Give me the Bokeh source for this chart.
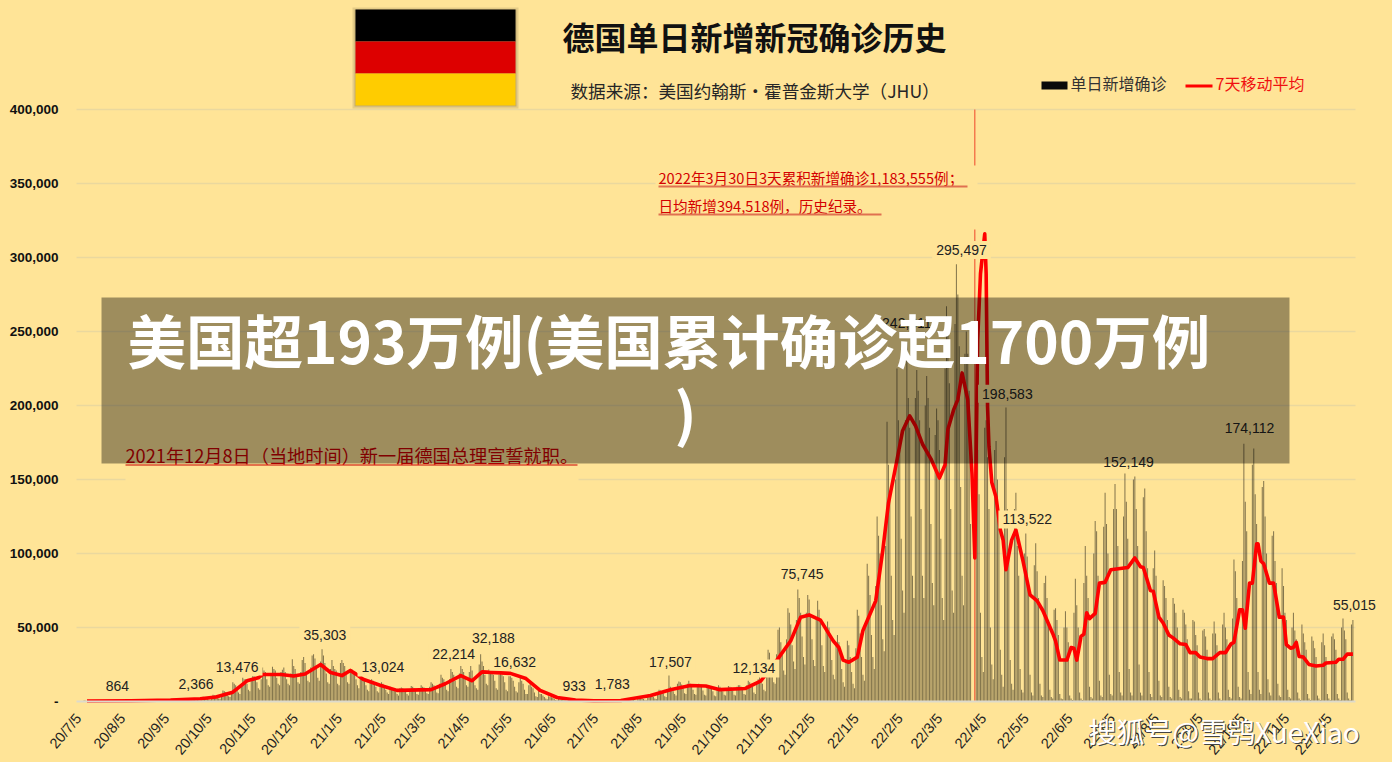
import numpy as np
import pandas as pd
from bokeh.plotting import figure
from bokeh.models import Range1d, FixedTicker, Label, BoxAnnotation, GlobalInlineStyleSheet, Grid
from bokeh.embed import file_html
from bokeh.resources import INLINE

BG = "#FFE497"
LATIN = "Liberation Sans"
CJK = "Noto Sans CJK SC"

month_labels = ["20/7/5","20/8/5","20/9/5","20/10/5","20/11/5","20/12/5","21/1/5","21/2/5","21/3/5","21/4/5",
                "21/5/5","21/6/5","21/7/5","21/8/5","21/9/5","21/10/5","21/11/5","21/12/5","22/1/5","22/2/5",
                "22/3/5","22/4/5","22/5/5","22/6/5","22/7/5","22/8/5","22/9/5","22/10/5","22/11/5","22/12/5"]
y_ticks = [0, 50000, 100000, 150000, 200000, 250000, 300000, 350000, 400000]
y_tick_labels = ["-", "50,000", "100,000", "150,000", "200,000", "250,000", "300,000", "350,000", "400,000"]

# daily new cases, thousands, read weekly rows from the picture; first bar is day 4 after 20/7/5
cases_from_200709 = [
 .6,.5,.4,.3,.2,.2,.5, .7,.6,.5,.4,.2,.2,.5, .9,.8,.7,.5,.3,.3,.6, .9,.8,.8,.6,.4,.3,.7,
 1.0,1.0,.9,.7,.4,.4,.8, 1.2,1.1,1.0,.8,.5,.4,1.0, 1.4,1.3,1.2,.9,.6,.5,1.1, 1.5,1.4,1.3,1.0,.6,.5,1.2,
 1.6,1.5,1.3,1.0,.7,.6,1.3, 1.9,1.8,1.6,1.2,.7,.6,1.5, 2.0,1.9,1.8,1.4,.8,.7,1.6, 2.4,2.3,2.1,1.6,1.0,.9,2.0,
 3.2,3.0,2.8,2.2,1.3,1.1,2.6, 4.5,4.2,4.1,3.2,2.1,1.8,3.6, 7.5,7.0,6.5,5.4,3.5,3.0,6.3, 13,12,11,9,6,5,11,
 16,15,15,12,8,7,14, 17,17,16,13,9,8,15, 23,21,20,15,11,10,18, 23.5,22,21,16,12,11,20,
 21.5,23,20,15,12,11,19, 28.5,24,22,17,13,12,20, 28,30,26,20,14,13,23, 31,32,29,22,16,14,27, 35.3,31,26,19,13,12,22,
]
cases_from_201231 = [
 28,24,22,21,12,11,26, 28,26,24,18,13,12,22, 22,20,19,15,11,9,17, 15.5,15,14,11,8,7,13, 15,14,12,10,7,6,11,
 13,12,11,8,6,5,10, 9.5,9,8.5,7,5,4,9, 9.5,9,8.5,7,5,4,8.5, 10.5,10,9,7,5,4.5,9, 11,10,9.5,8,5.5,5,10,
 13,12,11,9,6,5.5,12, 18,16,15,12,8,7,15, 22,20,18,14,10,9,19, 24,22,20,17,11,10,20, 24,21,15,11,9,8,25,
 32,27,24,18,12,11,22, 19,19,18,14,9,8,18, 19,18,17,13,8,7,17, 17,16,14,10,7,6,13, 16,14,12,8,5,5,11,
 12,10,9,6,3.5,3,8, 5,5,4,3,2,1.5,3.5, 3,2.8,2.5,1.8,1,.9,2, 1.5,1.4,1.3,.9,.6,.5,1.2, 1,1,.9,.6,.4,.3,.8,
 .8,.8,.7,.5,.3,.3,.7, .7,.7,.6,.5,.3,.2,.6, .6,.6,.6,.4,.3,.2,.6, .7,.7,.7,.5,.3,.3,.7, .9,.9,.8,.6,.4,.3,.9,
 1.5,1.4,1.3,1,.6,.5,1.8, 2.5,2.4,2.2,1.7,1.1,.9,3, 4.5,4.3,4,3.2,2,1.7,5.5, 8,7.5,7,5.5,3.5,3,8,
 17.5,10,9,7,5,4,12, 13.5,13,11.5,9,5.5,5,12, 14,12,11,8,5,4.5,10.5, 12,11,10,7.5,4.5,4,9.5, 10,9.5,9,7,4,3.5,9,
 11,10,9,7,4.5,4,9, 10.5,10,9.5,7.5,4.5,4,10, 11,11,10,8,5,4.5,11, 14,13,12,10,6,5,13, 15,17,15,12,8,7,24,
 35,33,26,20,13,12,32, 48.5,50,40,32,21,18,42, 63,60,52,38,27,22,55, 75.7,70,60,44,30,25,60, 72,69,58,42,28,24,56,
 68,62,53,38,24,20,48, 54,50,42,28,18,15,38, 45,40,34,22,13,10,28,
]
cases_from_211230 = [
 41,38,30,20,12,9,36, 62,58,46,30,18,14,52, 93,85,72,45,30,22,78, 125,112,100,65,42,34,105, 189,160,140,85,55,45,150,
 225,190,170,110,75,60,190, 242.8,205,185,125,85,70,205, 224,210,190,130,85,70,200, 220,205,185,120,80,65,180,
 198,190,170,110,70,55,225, 267,250,215,130,75,60,255, 295.5,275,240,145,85,65,235, 250,235,210,120,0,0,0,
 185,170,140,60,30,20,185, 190,165,130,50,25,15,170, 176,150,120,35,18,10,165, 198.6,130,100,28,12,8,130,
 141,105,85,22,8,6,100, 113.5,98,75,18,6,4,92, 107,88,70,12,4,3,80, 85,70,55,8,3,2,62, 63,55,45,5,2,1.5,50,
 61,50,40,4,2,1,60, 83,65,50,6,2,1,80, 105,85,70,10,3,2,100, 122,115,85,14,4,3,118, 141,120,100,18,5,4,130,
 147,130,105,20,6,4,125, 154,135,110,22,6,4,150, 152.1,130,105,25,6,4,138, 144,115,90,20,5,3,90, 102,85,65,14,4,3,82,
 78,70,55,10,3,2,70, 66,60,50,8,3,2,62, 60,52,42,7,2,2,55, 54,45,38,6,2,1,48, 49,44,35,6,2,1,46,
 54,46,38,6,2,1,52, 60,50,42,8,3,2,56, 96,88,70,10,3,2,95, 174.1,135,115,20,8,5,160, 171,140,120,20,8,5,145,
 149,125,100,15,6,4,112, 115,95,80,12,4,3,90, 78,60,55,8,3,2,50, 60,48,42,6,2,1,52, 46,40,35,5,2,1,44,
 41,36,30,4,2,1,40, 46,38,30,5,2,1,44, 46,42,35,5,2,1,50, 56,48,42,6,2,1,52, 55,
]
record_day = [633]
record_value = [400]

# 7-day average: day after 20/7/5, thousands
ma_day = [6,37,65,86,97,109,119,127,130,143,152,160,171,178,186,192,196,201,213,225,249,259,270,278,285,305,316,326,338,351,
          364,383,404,418,432,443,453,471,482,494,503,510,516,524,533,537,540,544,550,554,563,568,572,578,582,587,591,596,602,608,
          612,614,618,621,624,628,631,633,635,637,640,641,642,643,645,648,651,653,655,659,662,667,672,677,681,688,690,693,698,701,
          703,705,708,710,712,714,718,721,725,729,741,746,750,752,757,759,763,766,770,773,778,782,785,789,792,797,801,806,810,814,
          816,820,822,824,827,829,832,833,835,837,841,844,848,851,853,856,858,860,862,865,869,874,879,881,888,890,893,896,900]
ma_value = [.3,.5,1,1.9,3,6.3,14,16,18.2,18.2,17.2,18.6,25,19.6,17.5,21,18.5,15,11,7.5,8,12,17.5,14,20,19,15.5,7.5,2.7,1,
            .5,.7,4,8,10.8,10.5,8,8.8,14,29,41,57,58.5,55,41,36.5,28,26.5,30,48,68,102,134,163,183,193,186.5,174,164,151,
            160,184,197,204,222,204,154,97,244,289,316,289,199,172,148,138,116,109,89,109,116,95,72,68,61.5,46,41,28,28,36.5,
            36,28,44,45.5,60,56,59.5,80,80.5,89,90.5,97,91,90.5,75,74.5,57,53,45,43,39,38.5,33,33,30,29,29,33,33,39,
            40,62,62,49.5,80,80,106.5,106.5,95,93,80,80,57,57,38.5,36,36.5,40,30.5,30,25,24,24.5,26,26.5,28.5,28.5,32,32]

peak_text = ["864","2,366","13,476","35,303","13,024","22,214","32,188","16,632","933","1,783","17,507","12,134","75,745",
             "242,811","295,497","198,583","113,522","152,149","174,112","55,015"]
peak_day = [27.5,83,112,174,215,265,293,308,350,377,418,477,511,585,623.6,656,670,741.5,827,901]
peak_level = [10.8,12,23.6,45,23,32.4,42.6,27,10.8,11.5,27,22.3,86,256,305,208,123,162,184.5,65]

start = pd.Timestamp("2020-07-05")
tick_days = [(pd.to_datetime("20" + t, format="%Y/%m/%d") - start).days for t in month_labels]
cases = np.array(cases_from_200709 + cases_from_201231 + cases_from_211230, dtype=float) * 1000
days = np.arange(len(cases)) + 4

p = figure(width=1392, height=762, output_backend="svg", toolbar_location=None,
           x_range=Range1d(-55.08, 927.97), y_range=Range1d(-41216, 473649),
           min_border_left=0, min_border_right=0, min_border_top=0, min_border_bottom=0,
           background_fill_color=BG, border_fill_color=BG, outline_line_color=None)
p.stylesheets = [GlobalInlineStyleSheet(css=f"html,body{{margin:0;background:{BG};overflow:hidden}}")]

p.xgrid.visible = False
p.ygrid.ticker = FixedTicker(ticks=[t for t in y_ticks if t > 0])
p.ygrid.grid_line_color = "#EAD89E"
p.ygrid.grid_line_width = 1.5
has_cross_bounds = "cross_bounds" in Grid.properties()
if has_cross_bounds:
    p.ygrid.cross_bounds = (-1.41, 901.8)

p.yaxis.fixed_location = -1.41
p.yaxis.ticker = FixedTicker(ticks=y_ticks)
p.yaxis.major_label_overrides = {t: s for t, s in zip(y_ticks, y_tick_labels)}
p.yaxis.axis_line_color = None
p.yaxis.major_tick_line_color = None
p.yaxis.minor_tick_line_color = None
p.yaxis.major_label_standoff = 12
p.yaxis.major_label_text_font = LATIN
p.yaxis.major_label_text_font_style = "bold"
p.yaxis.major_label_text_font_size = "13.5px"
p.yaxis.major_label_text_color = "#111111"

p.xaxis.fixed_location = 0
p.xaxis.ticker = FixedTicker(ticks=tick_days)
p.xaxis.major_label_overrides = {t: s for t, s in zip(tick_days, month_labels)}
p.xaxis.bounds = (-1.41, 901.8)
p.xaxis.axis_line_color = "#DDDACB"
p.xaxis.axis_line_width = 2
p.xaxis.major_tick_line_color = None
p.xaxis.minor_tick_line_color = None
p.xaxis.major_label_orientation = 0.87
p.xaxis.major_label_standoff = 8
p.xaxis.major_label_text_font = LATIN
p.xaxis.major_label_text_font_size = "14.5px"
p.xaxis.major_label_text_color = "#222222"

p.vbar(x=days, top=cases, width=0.72, bottom=0, fill_color="#1f1c10", line_color=None, fill_alpha=0.55)
p.vbar(x=record_day, top=[v * 1000 for v in record_value], width=0.75, bottom=0, fill_color="#F05030", line_color=None)
p.line(x=ma_day, y=[v * 1000 for v in ma_value], line_color="#FF0000", line_width=3.6, line_join="round")


def box(l, r, t, b, color, alpha=1.0, level="annotation"):
    p.add_layout(BoxAnnotation(left=l, right=r, top=t, bottom=b,
                               left_units="canvas", right_units="canvas", top_units="canvas", bottom_units="canvas",
                               fill_color=color, fill_alpha=alpha, line_color=None, level=level))


def txt(x, y, s, size, color, font=CJK, style="normal", align="left"):
    p.add_layout(Label(x=x, y=y, x_units="canvas", y_units="canvas", text=s,
                       text_font=font, text_font_size=f"{size}px", text_color=color, text_font_style=style,
                       text_align=align, text_baseline="middle"))


if not has_cross_bounds:
    # the grid spans the plotted period only
    box(1355, 1392, 0, 690, BG, level="underlay")
    box(0, 76, 0, 690, BG, level="underlay")

for s, d, v in zip(peak_text, peak_day, peak_level):
    p.add_layout(Label(x=d, y=v * 1000, text=s, text_align="center", text_baseline="middle",
                       text_font=LATIN, text_font_size="14px", text_color="#222222",
                       background_fill_color=BG, padding=4))

# masks behind the two notes
box(655, 977, 165, 229, BG)
box(125, 578, 442, 483, BG)

txt(658, 177, "2022年3月30日3天累积新增确诊1,183,555例；", 14.6, "#D40000")
box(658, 967, 185, 187, "#E07050")
txt(658, 205, "日均新增394,518例，历史纪录。", 14.6, "#D40000")
box(658, 881, 213, 215, "#E07050")
txt(125, 454, "2021年12月8日（当地时间）新一届德国总理宣誓就职。", 18.2, "#D00000")
box(125, 577, 464, 465, "#C80000")

# flag
box(352, 518, 7, 108, "#000000", 0.10)
box(354, 516, 9, 106, "#000000", 0.15)
box(355, 515, 9, 41, "#000000")
box(355, 515, 41, 73, "#DD0000")
box(355, 515, 73, 105, "#FFCC00")

txt(562, 35, "德国单日新增新冠确诊历史", 32, "#111111", style="bold")
txt(570, 90, "数据来源：美国约翰斯·霍普金斯大学（JHU）", 17.6, "#262626")
box(1041, 1067, 81, 89, "#0A0A0A")
txt(1070, 82, "单日新增确诊", 16, "#333333")
box(1185, 1212, 84, 87, "#FF0000")
txt(1215, 82, "7天移动平均", 16, "#F01010")

# overlay band and its heading
box(101, 1289, 297, 463, "#000000", 0.38)
txt(127, 338, "美国超193万例(美国累计确诊超1700万例", 58.5, "#FFFFFF", style="bold")
txt(685, 410, ")", 58.5, "#FFFFFF", style="bold", align="center")

txt(1089, 731, "搜狐号@雪鸮XueXiao", 28, "#444444")
txt(1088, 730, "搜狐号@雪鸮XueXiao", 28, "#FFFFFF")

open("out.html", "w").write(file_html(p, INLINE))
